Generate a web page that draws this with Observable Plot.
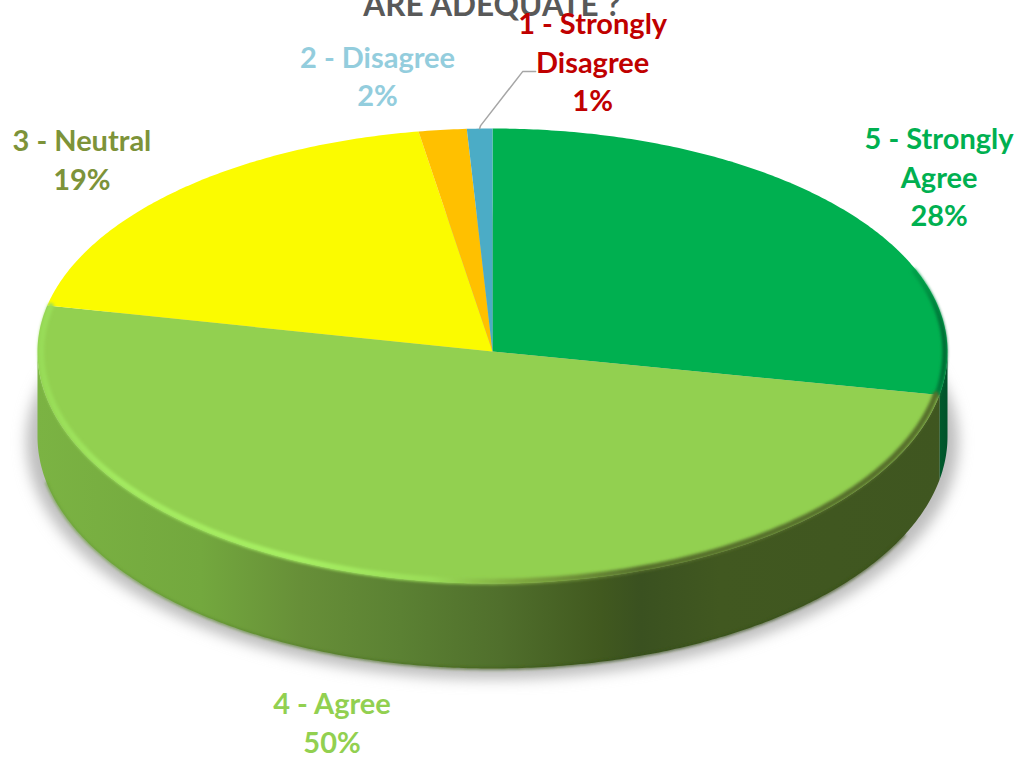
<!DOCTYPE html>
<html>
<head>
<meta charset="utf-8">
<style>
html,body{margin:0;padding:0;background:#fff;overflow:hidden}
.soft{filter:url(#soft)}
.shadow{filter:url(#shadow)}
</style>
<script src="https://cdn.jsdelivr.net/npm/d3@7"></script>
<script src="https://cdn.jsdelivr.net/npm/@observablehq/plot@0.6"></script>
</head>
<body>
<div id="chart"></div>
<script>
// ---- data ----
const title = "ARE ADEQUATE ?";
const categories = ["5 - Strongly\nAgree", "4 - Agree", "3 - Neutral", "2 - Disagree", "1 - Strongly\nDisagree"];
const shares = [28, 50.3, 19.1, 1.7, 0.9];
const sliceColors = ["#00B050", "#92D050", "#FBFB00", "#FFC000", "#4BACC6"];
const labelColors = ["#00B050", "#92D050", "#7D9339", "#93CDDD", "#C00000"];

// ---- layout ----
const W = 1023, H = 757;
const cx = 492, cy = 351, rx = 455, ry = 223, ryFront = 232, depth = 85;
const labelOffsets = [[96, -34], [-71, 142], [-96, -32], [-65, -55], [113, -68]];
const leaderOffsets = [[1, -3], [43, -57], [56, -57]];
const depthU = depth / ry, frontK = ryFront / ry;
const TAU = Math.PI * 2;

const arcs = d3.pie().sort(null).value(d => d)(shares);
const rim = (a, drop = 0, k = 1) => {
  const c = Math.cos(a);
  return {x: k * Math.sin(a), y: -k * c * (c < 0 ? frontK : 1) + drop};
};
const sweep = (a0, a1, drop = 0, k = 1) => {
  const n = Math.max(2, Math.ceil(Math.abs(a1 - a0) / 0.01));
  return d3.range(n + 1).map(i => rim(a0 + (a1 - a0) * i / n, drop, k));
};
const slicePts = arcs.map(d => [{x: 0, y: 0}, ...sweep(d.startAngle, d.endAngle), {x: 0, y: 0}]);
const wallPts = (a0, a1) => [...sweep(a0, a1), ...sweep(a1, a0, depthU)];
const frontA = Math.PI / 2, backA = Math.PI * 1.5;
const mid = d => (d.startAngle + d.endAngle) / 2;
const leaderAnchor = rim(mid(arcs[4]));
const leaderPts = [leaderAnchor].concat(leaderOffsets.map(([dx, dy]) => ({
  x: leaderAnchor.x + dx / rx,
  y: leaderAnchor.y + dy / ry
})));

const lineOpts = (fill, extra = {}) => ({x: "x", y: "y", fill, stroke: "none", curve: "linear", ...extra});

const marks = [
  // soft shadow below the disc
  Plot.line(sweep(0, TAU, depthU + 5 / ry, 1.024), lineOpts("#bdbdbd", {className: "shadow"})),
  // walls
  Plot.line(wallPts(frontA, arcs[0].endAngle), lineOpts("url(#wall5)")),
  Plot.line(wallPts(arcs[1].startAngle, backA), lineOpts("url(#wall4)")),
  Plot.line(sweep(arcs[1].startAngle + 0.25, backA - 0.2, depthU), {x: "x", y: "y", stroke: "url(#edge4)", strokeWidth: 2, className: "soft"}),
  // top faces
  ...slicePts.map((pts, i) => Plot.line(pts, lineOpts(sliceColors[i]))),
  // bevels on the rim
  Plot.line(sweep(1.2, arcs[0].endAngle, 0, 0.994), {x: "x", y: "y", stroke: "url(#bevel5)", strokeWidth: 5, className: "soft"}),
  Plot.line(sweep(arcs[1].startAngle, arcs[1].endAngle, 0, 0.992), {x: "x", y: "y", stroke: "url(#bevel4)", strokeWidth: 6, className: "soft"}),
  // leader line for the smallest slice
  Plot.line(leaderPts, {x: "x", y: "y", stroke: "#a6a6a6", strokeWidth: 1.5, curve: "linear"}),
  // title, cut by the top edge as in the original
  Plot.text([title], {frameAnchor: "top", lineAnchor: "bottom", dx: -20, dy: 15, fill: "#595959", fontSize: 31.5, fontWeight: 700}),
  // labels
  ...arcs.map((d, i) => {
    const p = rim(mid(d));
    return Plot.text([{...p, t: `${categories[i]}\n${Math.round(shares[i])}%`}], {
      x: "x", y: "y", text: "t", dx: labelOffsets[i][0], dy: labelOffsets[i][1],
      fill: labelColors[i], fontSize: 29, fontWeight: 700, lineHeight: 1.328,
      textAnchor: "middle", lineAnchor: "middle"
    });
  })
];

const svg = Plot.plot({
  width: W, height: H,
  margin: 0,
  style: {fontFamily: "Lato, sans-serif", background: "#fff"},
  x: {domain: [-cx / rx, (W - cx) / rx], range: [0, W], axis: null},
  y: {domain: [-cy / ry, (H - cy) / ry], range: [0, H], axis: null},
  marks
});

const defs = d3.select(svg).insert("defs", ":first-child");
const stops = (id, list) => {
  const g = defs.append("linearGradient").attr("id", id)
    .attr("gradientUnits", "userSpaceOnUse").attr("x1", 0).attr("x2", W).attr("y1", 0).attr("y2", 0);
  list.forEach(([px, c]) => g.append("stop").attr("offset", px / W).attr("stop-color", c));
};
stops("wall4", [[37, "#7bb343"], [200, "#73a83e"], [300, "#678f38"], [400, "#5b8133"], [500, "#506f2c"], [600, "#41591f"], [640, "#3a5120"], [720, "#415820"], [945, "#3f5620"]]);
stops("wall5", [[930, "#00642f"], [947, "#00522a"]]);
stops("bevel4", [[40, "#98dc58"], [120, "#a3ea60"], [300, "#a6ef62"], [430, "#9add58"], [520, "#7fa83f"], [640, "#566f2c"], [940, "#566f2c"]]);
stops("bevel5", [[895, "#00B050"], [925, "#009444"], [945, "#006a34"]]);
stops("edge4", [[100, "#6a9e38"], [400, "#4a6e22"], [600, "#334d14"], [900, "#38501a"]]);
const filter = (id, sd) => defs.append("filter").attr("id", id).attr("filterUnits", "userSpaceOnUse")
  .attr("x", -20).attr("y", -20).attr("width", W + 40).attr("height", H + 40)
  .append("feGaussianBlur").attr("stdDeviation", sd);
filter("soft", 1.4);
filter("shadow", 7);

document.getElementById("chart").append(svg);
</script>
</body>
</html>
